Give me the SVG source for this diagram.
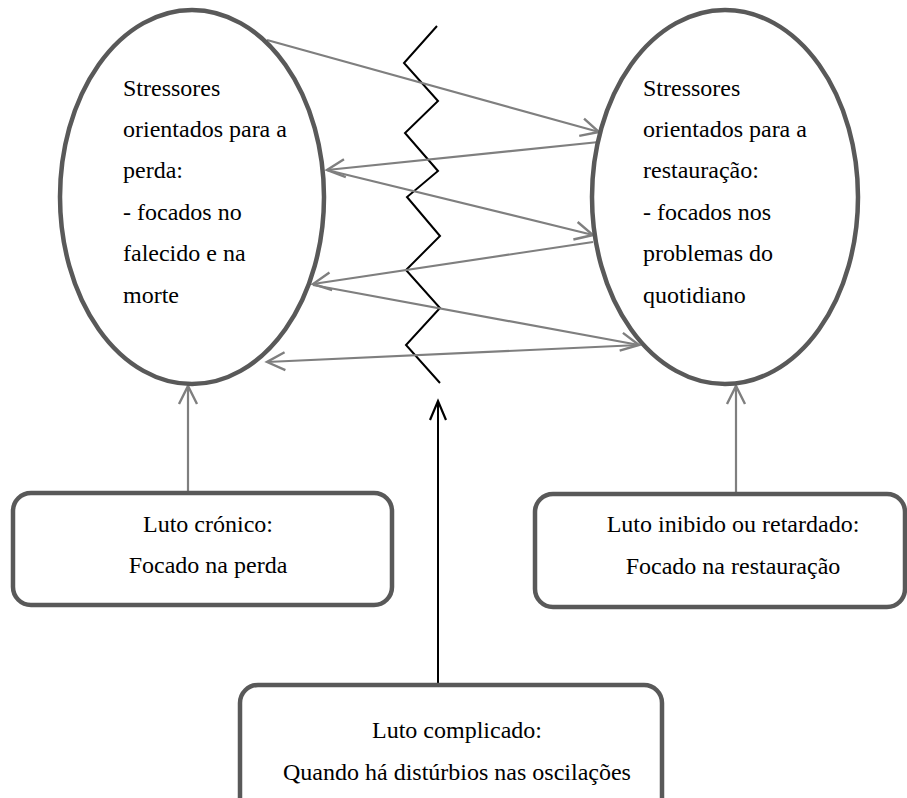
<svg xmlns="http://www.w3.org/2000/svg" width="907" height="798" viewBox="0 0 907 798">
<style>
.node{fill:#fff;stroke:#595959;stroke-width:4.5}
.t{font-family:"Liberation Serif","Times New Roman",serif;font-size:24px;fill:#000}
.c{text-anchor:middle}
.g{stroke:#7f7f7f;stroke-width:2.2;fill:none}
.k{stroke:#000;stroke-width:2;fill:none}
</style>
<defs>
<marker id="ag" markerUnits="userSpaceOnUse" markerWidth="24" markerHeight="24" viewBox="-20 -12 24 24" refX="0" refY="0" orient="auto">
<path d="M-18,-9 L0,0 L-18,9" fill="none" stroke="#7f7f7f" stroke-width="2.4"/>
</marker>
<marker id="ak" markerUnits="userSpaceOnUse" markerWidth="24" markerHeight="24" viewBox="-20 -12 24 24" refX="0" refY="0" orient="auto">
<path d="M-19,-8 L0,0 L-19,8" fill="none" stroke="#000" stroke-width="2.2"/>
</marker>
</defs>
<rect width="907" height="798" fill="#fff"/>
<g id="connectors">
<polyline class="k" points="437,26 404,63 438,101 405,133 438,171 407,197 440,236 406,270 440,308 406,345 440,383"/>
<line class="g" x1="267" y1="40" x2="599" y2="132" marker-end="url(#ag)"/>
<line class="g" x1="599" y1="142" x2="327" y2="170" marker-end="url(#ag)"/>
<line class="g" x1="327" y1="170" x2="593" y2="235" marker-end="url(#ag)"/>
<line class="g" x1="593" y1="242" x2="313" y2="284" marker-end="url(#ag)"/>
<line class="g" x1="313" y1="285" x2="639" y2="345" marker-end="url(#ag)"/>
<line class="g" x1="639" y1="345" x2="267" y2="362" marker-end="url(#ag)"/>
<line class="g" x1="188" y1="493" x2="188" y2="386" marker-end="url(#ag)"/>
<line class="g" x1="736" y1="494" x2="736" y2="386" marker-end="url(#ag)"/>
<line class="k" x1="438" y1="685" x2="438" y2="401" marker-end="url(#ak)"/>
</g>
<g id="node-perda">
<ellipse class="node" cx="192" cy="197" rx="132" ry="187"/>
<text class="t" x="123" y="96">Stressores</text>
<text class="t" x="123" y="137">orientados para a</text>
<text class="t" x="123" y="178">perda:</text>
<text class="t" x="123" y="220">- focados no</text>
<text class="t" x="123" y="261">falecido e na</text>
<text class="t" x="123" y="303">morte</text>
</g>
<g id="node-restauracao">
<ellipse class="node" cx="725" cy="197" rx="133" ry="187"/>
<text class="t" x="643" y="96">Stressores</text>
<text class="t" x="643" y="137">orientados para a</text>
<text class="t" x="643" y="178">restauração:</text>
<text class="t" x="643" y="220">- focados nos</text>
<text class="t" x="643" y="261">problemas do</text>
<text class="t" x="643" y="303">quotidiano</text>
</g>
<g id="node-cronico">
<rect class="node" x="13" y="493" width="379" height="112" rx="18"/>
<text class="t c" x="208" y="532">Luto crónico:</text>
<text class="t c" x="208" y="573">Focado na perda</text>
</g>
<g id="node-inibido">
<rect class="node" x="535" y="494" width="370" height="113" rx="18"/>
<text class="t c" x="733" y="532">Luto inibido ou retardado:</text>
<text class="t c" x="733" y="574">Focado na restauração</text>
</g>
<g id="node-complicado">
<rect class="node" x="240" y="685" width="422" height="140" rx="18"/>
<text class="t c" x="457" y="738">Luto complicado:</text>
<text class="t c" x="457" y="780">Quando há distúrbios nas oscilações</text>
</g>
</svg>
